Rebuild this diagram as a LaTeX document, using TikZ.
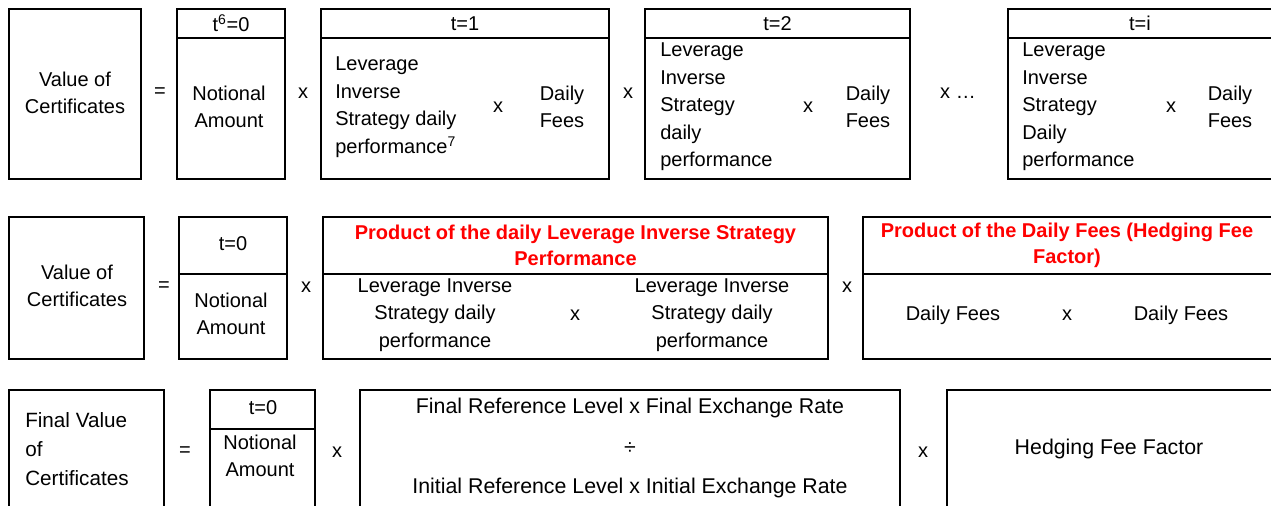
\documentclass[tikz,border=0pt]{standalone}
\usepackage{fontspec}
\setmainfont{Liberation Sans}
\usetikzlibrary{fit}
\definecolor{hdred}{RGB}{255,0,0}
\begin{document}
\begin{tikzpicture}[x=0.75pt,y=-0.75pt,
  box/.style={draw, line width=1.4pt, inner sep=0pt},
  txt/.style={font=\fontsize{15}{20.6}\selectfont, inner sep=0pt, align=center},
  ltxt/.style={txt, align=left, anchor=west},
  btxt/.style={font=\fontsize{16}{21}\selectfont, inner sep=0pt, align=center},
  redh/.style={font=\fontsize{15}{19.5}\selectfont\bfseries, text=hdred, inner sep=0pt, align=center}]
\useasboundingbox (0,0) rectangle (1271,506);
% ---------------- Row 1 ----------------
\node[box, fit={(9,9)(141,179)}] (a1) {};
\node[txt] (a1t) at (75,93) {Value of\\Certificates};
\node[txt] (eq1) at (160,93) {=};
\node[box, fit={(177,9)(285,38)}] (n1h) {};
\node[txt] (n1ht) at (n1h.center) {t\textsuperscript{6}=0};
\node[box, fit={(177,38)(285,179)}] (n1b) {};
\node[txt] (n1bt) at (229,107) {Notional\\Amount};
\node[txt] (m11) at (303,93) {x};
\node[box, fit={(321,9)(609,38)}] (t1h) {};
\node[txt] (t1ht) at (t1h.center) {t=1};
\node[box, fit={(321,38)(609,179)}] (t1b) {};
\node[ltxt] (t1l) at (335,107) {Leverage\\Inverse\\Strategy daily\\performance\textsuperscript{7}};
\node[txt] (t1x) at (498,107) {x};
\node[txt] (t1f) at (562,107) {Daily\\Fees};
\node[txt] (m12) at (628,93) {x};
\node[box, fit={(645,9)(910,38)}] (t2h) {};
\node[txt] (t2ht) at (t2h.center) {t=2};
\node[box, fit={(645,38)(910,179)}] (t2b) {};
\node[ltxt] (t2l) at (660,107) {Leverage\\Inverse\\Strategy\\daily\\performance};
\node[txt] (t2x) at (808,107) {x};
\node[txt] (t2f) at (868,107) {Daily\\Fees};
\node[txt] (m13) at (958,93) {x \dots};
\node[box, fit={(1008,9)(1274,38)}] (tih) {};
\node[txt] (tiht) at (1140,23.5) {t=i};
\node[box, fit={(1008,38)(1274,179)}] (tib) {};
\node[ltxt] (til) at (1022,107) {Leverage\\Inverse\\Strategy\\Daily\\performance};
\node[txt] (tix) at (1171,107) {x};
\node[txt] (tif) at (1230,107) {Daily\\Fees};
% ---------------- Row 2 ----------------
\node[box, fit={(9,217)(144,359)}] (a2) {};
\node[txt] (a2t) at (77,286) {Value of\\Certificates};
\node[txt] (eq2) at (164,287) {=};
\node[box, fit={(179,217)(287,274)}] (n2h) {};
\node[txt] (n2ht) at (233,244) {t=0};
\node[box, fit={(179,274)(287,359)}] (n2b) {};
\node[txt] (n2bt) at (231,314) {Notional\\Amount};
\node[txt] (m21) at (306,287) {x};
\node[box, fit={(323,217)(828,274)}] (p2h) {};
\node[redh] (p2ht) at (p2h.center) {Product of the daily Leverage Inverse Strategy\\Performance};
\node[box, fit={(323,274)(828,359)}] (p2b) {};
\node[txt] (p2l) at (435,315) {Leverage Inverse\\Strategy daily\\performance};
\node[txt] (p2x) at (575,315) {x};
\node[txt] (p2r) at (712,315) {Leverage Inverse\\Strategy daily\\performance};
\node[txt] (m22) at (847,287) {x};
\node[box, fit={(863,217)(1274,274)}] (f2h) {};
\node[redh] (f2ht) at (1067,245.5) {Product of the Daily Fees (Hedging Fee\\Factor)};
\node[box, fit={(863,274)(1274,359)}] (f2b) {};
\node[txt] (f2l) at (953,315) {Daily Fees};
\node[txt] (f2x) at (1067,315) {x};
\node[txt] (f2r) at (1181,315) {Daily Fees};
% ---------------- Row 3 ----------------
\node[box, fit={(9,390)(164,520)}] (a3) {};
\node[ltxt, font=\fontsize{15.5}{21.5}\selectfont] (a3t) at (25,449) {Final Value\\of\\Certificates};
\node[txt] (eq3) at (185,452) {=};
\node[box, fit={(210,390)(315,429)}] (n3h) {};
\node[txt] (n3ht) at (263,408) {t=0};
\node[box, fit={(210,429)(315,520)}] (n3b) {};
\node[txt, font=\fontsize{15}{20.5}\selectfont] (n3bt) at (260,456) {Notional\\Amount};
\node[txt] (m31) at (337,452) {x};
\node[box, fit={(360,390)(900,520)}] (r3) {};
\node[btxt] (r3a) at (630,408) {Final Reference Level x Final Exchange Rate};
\node[btxt] (r3d) at (630,449) {÷};
\node[btxt] (r3b) at (630,488) {Initial Reference Level x Initial Exchange Rate};
\node[txt] (m32) at (923,452) {x};
\node[box, fit={(947,390)(1274,520)}] (h3) {};
\node[btxt] (h3t) at (1109,449) {Hedging Fee Factor};
\end{tikzpicture}
\end{document}
